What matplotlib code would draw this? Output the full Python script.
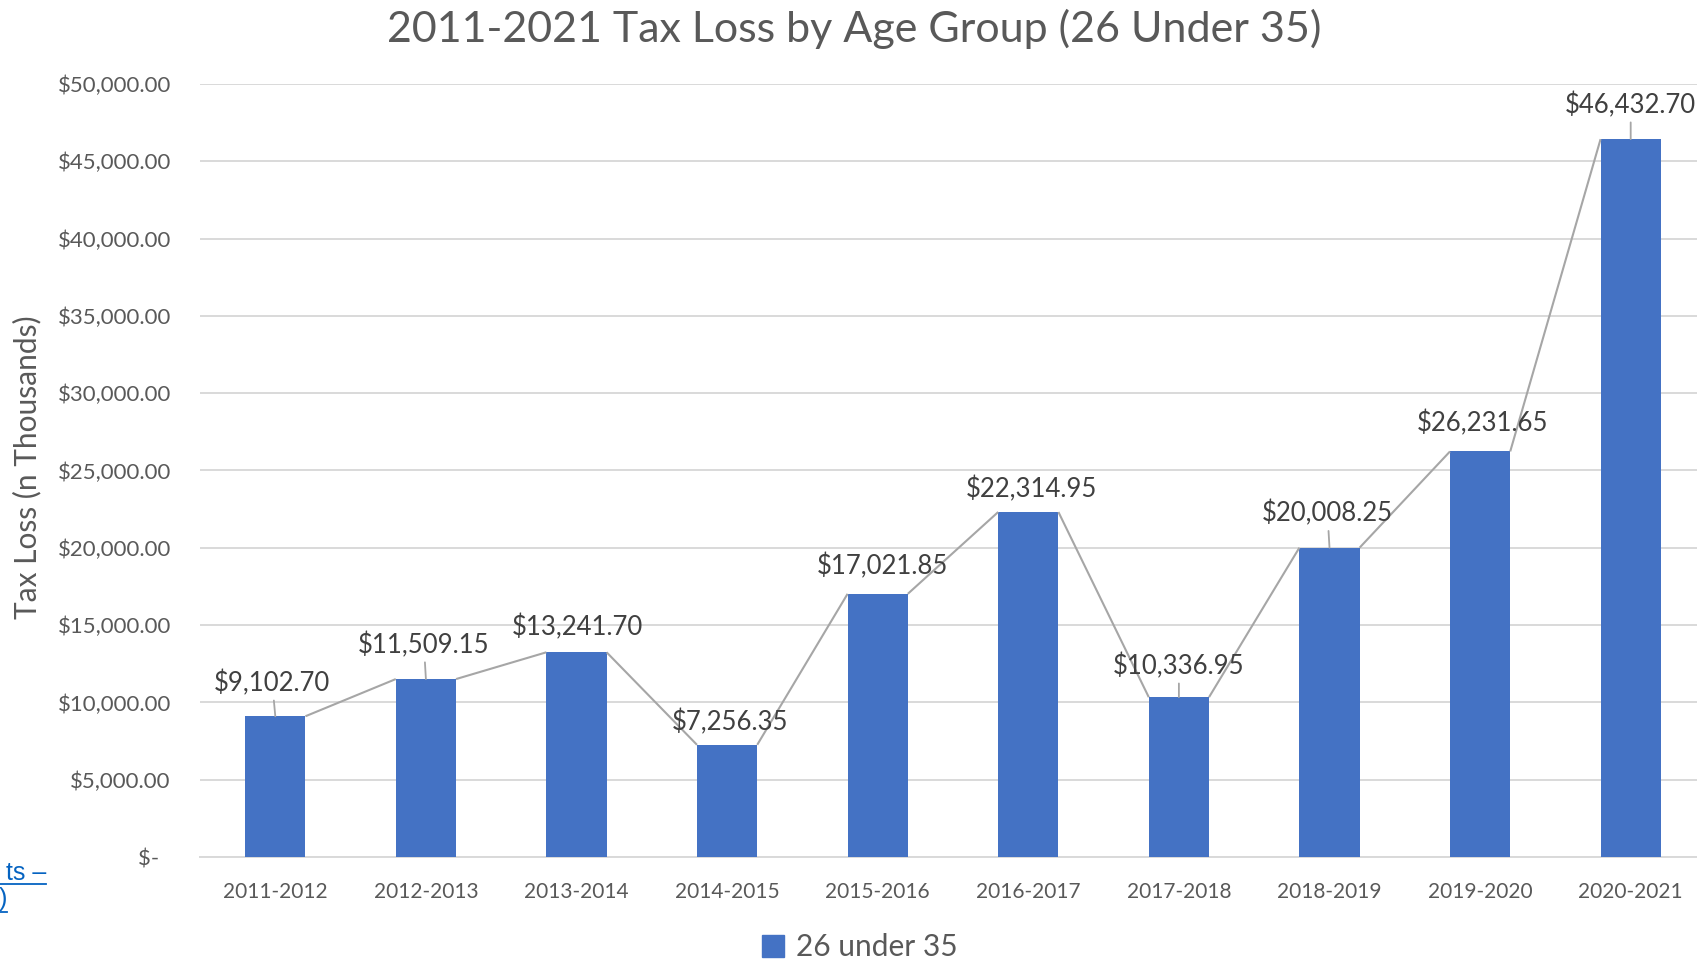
import matplotlib
matplotlib.use("Agg")
import matplotlib.pyplot as plt
from matplotlib.patches import Patch
from matplotlib.ticker import FuncFormatter, MultipleLocator

plt.rcParams['font.family'] = ['Lato', 'DejaVu Sans']

# tax loss per fiscal year, in thousands of dollars
periods = ['2011-2012', '2012-2013', '2013-2014', '2014-2015', '2015-2016',
           '2016-2017', '2017-2018', '2018-2019', '2019-2020', '2020-2021']
tax_loss = [9102.70, 11509.15, 13241.70, 7256.35, 17021.85,
            22314.95, 10336.95, 20008.25, 26231.65, 46432.70]
series_name = '26 under 35'

# where each value label sits relative to the top of its bar (pixels)
label_offsets = [(-3, 33), (-2, 34), (1, 25), (3, 23), (5, 28),
                 (3, 23), (0, 31), (-2, 34), (2, 28), (0, 34)]

BLUE = '#4472C4'
GRID = '#D9D9D9'
TEXT = '#595959'
LINE = '#A6A6A6'

W, H = 1697, 961
fig = plt.figure(figsize=(W / 100, H / 100), dpi=100)
ax = fig.add_axes([200 / W, 104 / H, 1506 / W, 773 / H])

x = list(range(len(periods)))
ax.bar(x, tax_loss, width=0.4, color=BLUE, zorder=3)

# series lines joining the bar tops
for i in range(len(tax_loss) - 1):
    ax.plot([i + 0.2, i + 0.8], [tax_loss[i], tax_loss[i + 1]],
            color=LINE, lw=1.5, zorder=4, solid_capstyle='butt')

for i, v in enumerate(tax_loss):
    dx, dy = label_offsets[i]
    arrow = None
    if dy > 29:
        arrow = dict(arrowstyle='-', color=LINE, lw=1.3, shrinkA=1, shrinkB=0)
    ax.annotate(f'${v:,.2f}', xy=(i, v), xytext=(dx, dy),
                textcoords='offset pixels', ha='center', va='center',
                fontsize=18.5, color='#404040', arrowprops=arrow, zorder=5)

ax.set_xlim(-0.5, len(periods) - 0.5)
ax.set_ylim(0, 50000)
ax.yaxis.set_major_locator(MultipleLocator(5000))
ax.yaxis.set_major_formatter(FuncFormatter(
    lambda v, pos: '$-  ' if v == 0 else f'${v:,.2f}'))
ax.set_xticks(x)
ax.set_xticklabels(periods)
ax.grid(axis='y', color=GRID, lw=1.4, zorder=0)
ax.set_axisbelow(True)
for side in ['top', 'right', 'left']:
    ax.spines[side].set_visible(False)
ax.spines['bottom'].set_color(GRID)
ax.spines['bottom'].set_linewidth(1.4)
ax.tick_params(axis='y', length=0, pad=21, labelsize=16, labelcolor=TEXT)
ax.tick_params(axis='x', length=0, pad=18, labelsize=15, labelcolor=TEXT)

fig.text(854 / W, 1 - 29 / H, '2011-2021 Tax Loss by Age Group (26 Under 35)',
         ha='center', va='center', fontsize=31, color=TEXT)
fig.text(27 / W, 1 - 467 / H, 'Tax Loss (n Thousands)', rotation=90,
         ha='center', va='center', fontsize=21.5, color=TEXT)

fig.legend([Patch(color=BLUE)], [series_name], loc='center',
           bbox_to_anchor=(860 / W, 1 - 947 / H), frameon=False,
           fontsize=21.5, labelcolor=TEXT, handlelength=0.75, handleheight=0.75,
           handletextpad=0.4)

# stray hyperlink text at the left edge
LINK = '#0563C1'
fig.text(46 / W, 1 - 880 / H, 'ts –', ha='right', va='baseline',
         fontsize=18, color=LINK, family='Liberation Sans')
fig.add_artist(plt.Line2D([0, 46 / W], [1 - 884 / H] * 2, color=LINK, lw=1.3))
fig.text(7 / W, 1 - 906 / H, ')', ha='right', va='baseline',
         fontsize=18, color=LINK, family='Liberation Sans')
fig.add_artist(plt.Line2D([0, 7 / W], [1 - 912 / H] * 2, color=LINK, lw=1.3))

fig.savefig('out.png', dpi=100)
